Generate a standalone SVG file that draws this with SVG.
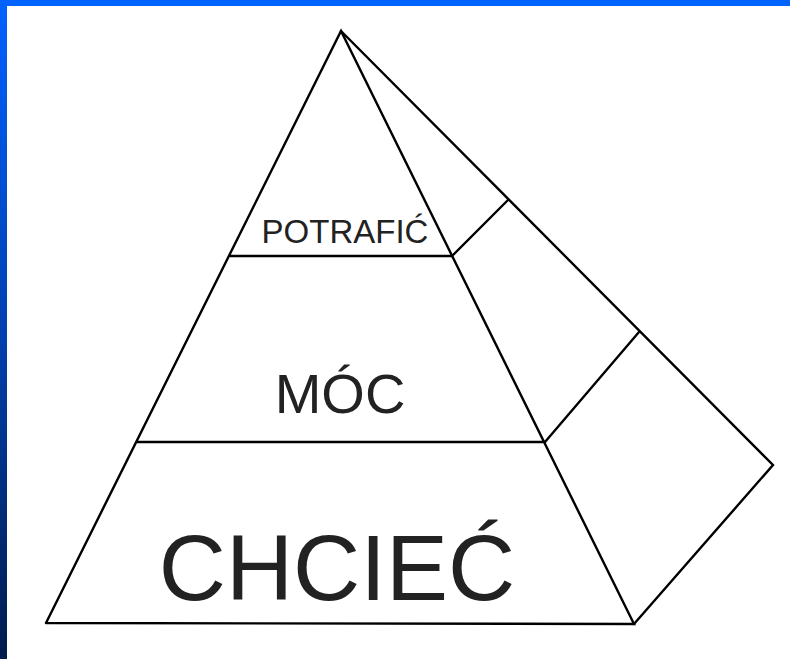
<svg xmlns="http://www.w3.org/2000/svg" width="790" height="659" viewBox="0 0 790 659">
<defs>
<linearGradient id="side" x1="0" y1="0" x2="0" y2="1">
<stop offset="0" stop-color="#0062ff"/>
<stop offset="0.5" stop-color="#0040b0"/>
<stop offset="1" stop-color="#001c4c"/>
</linearGradient>
<style>
.ln{stroke:#000;stroke-width:2.4;fill:none;stroke-linejoin:miter;stroke-linecap:round}
.t{font-family:"Liberation Sans",Arial,sans-serif;fill:#222;text-anchor:middle}
</style>
</defs>
<rect x="0" y="0" width="790" height="659" fill="#fff"/>
<rect x="0" y="0" width="790" height="6" fill="#0062ff"/>
<rect x="0" y="0" width="7" height="659" fill="url(#side)"/>
<g id="connectors">
<polyline class="ln" points="46,623 341,31 634,624 46,623"/>
<polyline class="ln" points="341,31 773,465 634,624"/>
<line class="ln" x1="230" y1="256" x2="452" y2="256"/>
<line class="ln" x1="137" y1="442" x2="545" y2="442"/>
<line class="ln" x1="452" y1="256" x2="508" y2="200"/>
<line class="ln" x1="545" y1="442" x2="639" y2="332"/>
</g>
<g id="potrafic"><text class="t" x="345" y="243" font-size="33">POTRAFIĆ</text></g>
<g id="moc"><text class="t" x="340" y="413" font-size="56">MÓC</text></g>
<g id="chciec"><text class="t" x="337" y="600" font-size="93">CHCIEĆ</text></g>
</svg>
